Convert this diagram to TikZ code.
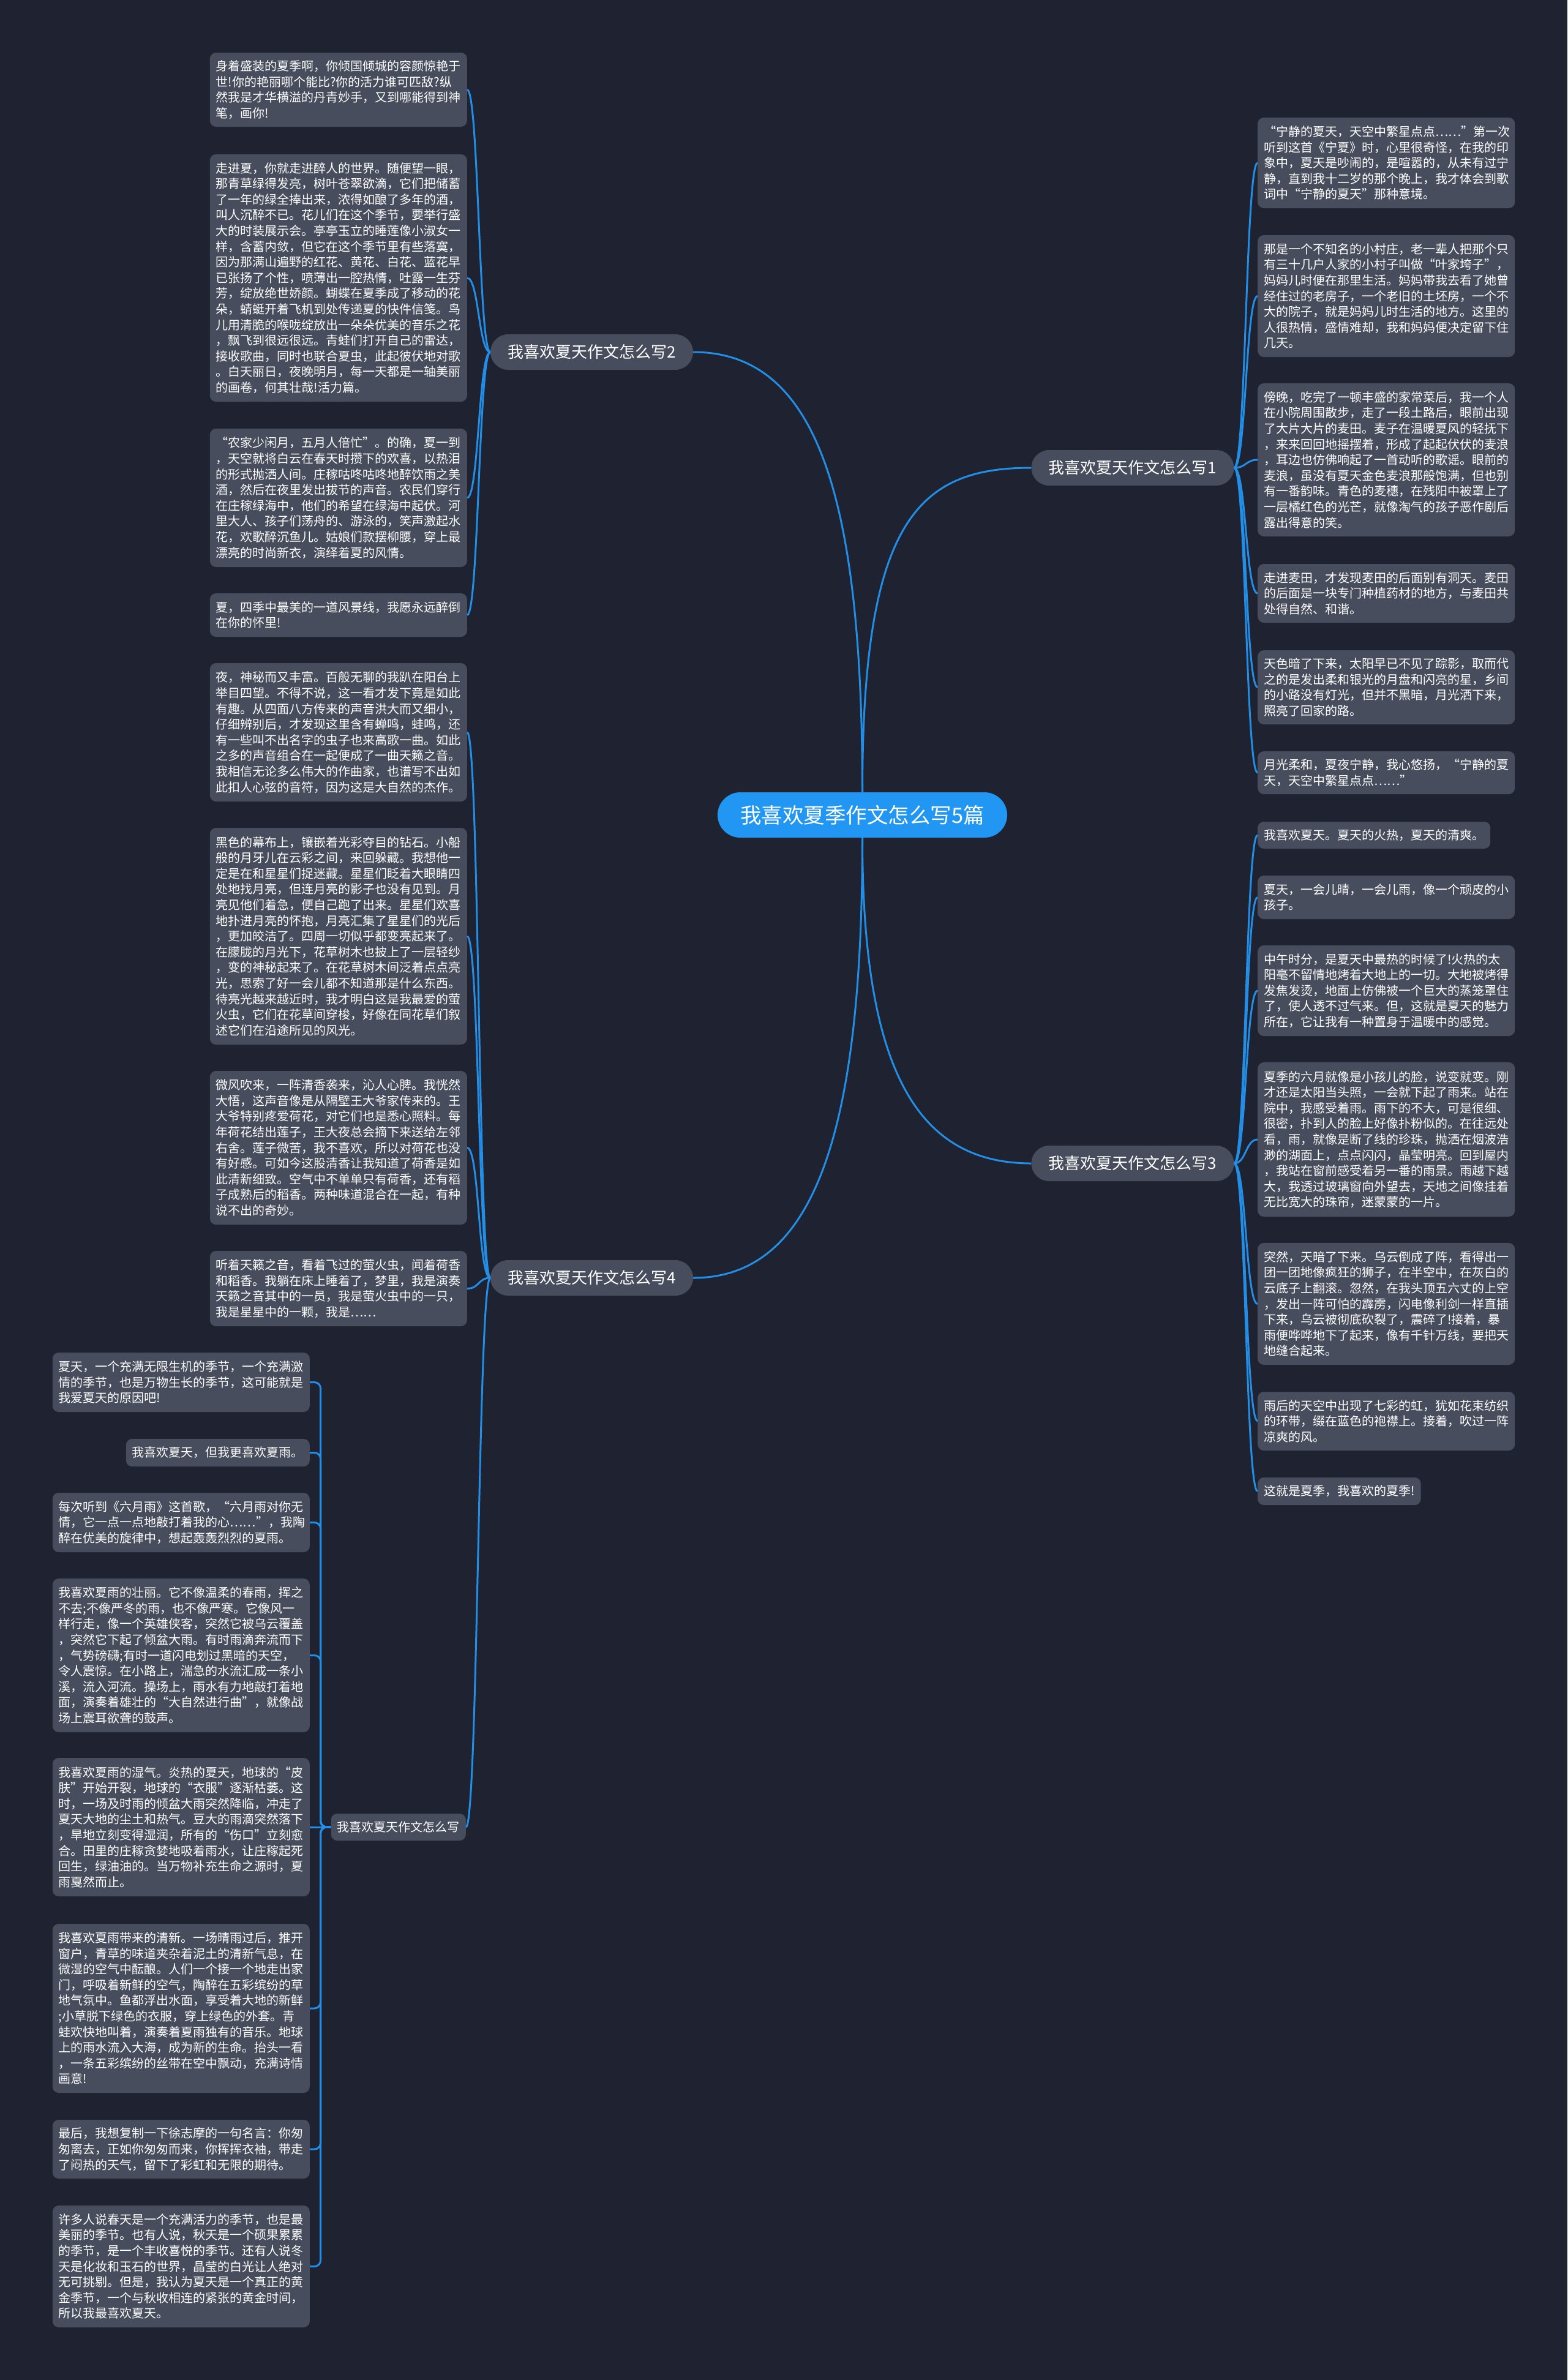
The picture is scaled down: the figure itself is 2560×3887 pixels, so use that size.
\documentclass[tikz,border=0pt]{standalone}
\usepackage{fontspec}
\newfontfamily\cjk{Noto Sans CJK SC}
\definecolor{bgc}{RGB}{31,35,49}
\definecolor{leafc}{RGB}{71,77,92}
\definecolor{linec}{RGB}{35,142,230}
\definecolor{rootc}{RGB}{33,150,243}
\begin{document}
\begin{tikzpicture}[x=1pt,y=-1pt,
  leafbase/.style={fill=leafc, rounded corners=10pt, text=white, font=\cjk\fontsize{20}{25.6}\selectfont, align=left, inner xsep=10pt, inner ysep=0pt},
  leaf/.style={leafbase, text width=400pt},
  branch/.style={fill=leafc, rounded corners=29pt, text=white, font=\cjk\fontsize{26}{30}\selectfont, minimum width=331pt, minimum height=58pt, inner sep=0pt},
  root/.style={fill=rootc, rounded corners=37pt, text=white, font=\cjk\fontsize{34.5}{40}\selectfont, minimum width=473pt, minimum height=74pt, inner sep=0pt},
  link/.style={draw=linec, line width=3pt}]
\fill[bgc] (0,0) rectangle (2560,3887);

% root and branches
\node[root] (C) at (1408.5,1331) {我喜欢夏季作文怎么写5篇};
\node[branch] (B2) at (966.5,575) {我喜欢夏天作文怎么写2};
\node[branch] (B1) at (1850,764) {我喜欢夏天作文怎么写1};
\node[branch] (B3) at (1850,1900) {我喜欢夏天作文怎么写3};
\node[branch] (B4) at (966.5,2087) {我喜欢夏天作文怎么写4};

% branch 2 leaves
\node[leaf, anchor=east, minimum height=121pt] (L2a) at (763,146.5) {身着盛装的夏季啊，你倾国倾城的容颜惊艳于\\世!你的艳丽哪个能比?你的活力谁可匹敌?纵\\然我是才华横溢的丹青妙手，又到哪能得到神\\笔，画你!};
\node[leaf, anchor=east, minimum height=404pt] (L2b) at (763,454) {走进夏，你就走进醉人的世界。随便望一眼，\\那青草绿得发亮，树叶苍翠欲滴，它们把储蓄\\了一年的绿全捧出来，浓得如酿了多年的酒，\\叫人沉醉不已。花儿们在这个季节，要举行盛\\大的时装展示会。亭亭玉立的睡莲像小淑女一\\样，含蓄内敛，但它在这个季节里有些落寞，\\因为那满山遍野的红花、黄花、白花、蓝花早\\已张扬了个性，喷薄出一腔热情，吐露一生芬\\芳，绽放绝世娇颜。蝴蝶在夏季成了移动的花\\朵，蜻蜓开着飞机到处传递夏的快件信笺。鸟\\儿用清脆的喉咙绽放出一朵朵优美的音乐之花\\，飘飞到很远很远。青蛙们打开自己的雷达，\\接收歌曲，同时也联合夏虫，此起彼伏地对歌\\。白天丽日，夜晚明月，每一天都是一轴美丽\\的画卷，何其壮哉!活力篇。};
\node[leaf, anchor=east, minimum height=226pt] (L2c) at (763,813) {“农家少闲月，五月人倍忙”。的确，夏一到\\，天空就将白云在春天时攒下的欢喜，以热泪\\的形式抛洒人间。庄稼咕咚咕咚地醉饮雨之美\\酒，然后在夜里发出拔节的声音。农民们穿行\\在庄稼绿海中，他们的希望在绿海中起伏。河\\里大人、孩子们荡舟的、游泳的，笑声激起水\\花，欢歌醉沉鱼儿。姑娘们款摆柳腰，穿上最\\漂亮的时尚新衣，演绎着夏的风情。};
\node[leaf, anchor=east, minimum height=71pt] (L2d) at (763,1004.5) {夏，四季中最美的一道风景线，我愿永远醉倒\\在你的怀里!};

% branch 4 leaves
\node[leaf, anchor=east, minimum height=226pt] (L4a) at (763,1196) {夜，神秘而又丰富。百般无聊的我趴在阳台上\\举目四望。不得不说，这一看才发下竟是如此\\有趣。从四面八方传来的声音洪大而又细小，\\仔细辨别后，才发现这里含有蝉鸣，蛙鸣，还\\有一些叫不出名字的虫子也来高歌一曲。如此\\之多的声音组合在一起便成了一曲天籁之音。\\我相信无论多么伟大的作曲家，也谱写不出如\\此扣人心弦的音符，因为这是大自然的杰作。};
\node[leaf, anchor=east, minimum height=354pt] (L4b) at (763,1529) {黑色的幕布上，镶嵌着光彩夺目的钻石。小船\\般的月牙儿在云彩之间，来回躲藏。我想他一\\定是在和星星们捉迷藏。星星们眨着大眼睛四\\处地找月亮，但连月亮的影子也没有见到。月\\亮见他们着急，便自己跑了出来。星星们欢喜\\地扑进月亮的怀抱，月亮汇集了星星们的光后\\，更加皎洁了。四周一切似乎都变亮起来了。\\在朦胧的月光下，花草树木也披上了一层轻纱\\，变的神秘起来了。在花草树木间泛着点点亮\\光，思索了好一会儿都不知道那是什么东西。\\待亮光越来越近时，我才明白这是我最爱的萤\\火虫，它们在花草间穿梭，好像在同花草们叙\\述它们在沿途所见的风光。};
\node[leaf, anchor=east, minimum height=251pt] (L4c) at (763,1874.5) {微风吹来，一阵清香袭来，沁人心脾。我恍然\\大悟，这声音像是从隔壁王大爷家传来的。王\\大爷特别疼爱荷花，对它们也是悉心照料。每\\年荷花结出莲子，王大夜总会摘下来送给左邻\\右舍。莲子微苦，我不喜欢，所以对荷花也没\\有好感。可如今这股清香让我知道了荷香是如\\此清新细致。空气中不单单只有荷香，还有稻\\子成熟后的稻香。两种味道混合在一起，有种\\说不出的奇妙。};
\node[leaf, anchor=east, minimum height=123pt] (L4d) at (763,2104.5) {听着天籁之音，看着飞过的萤火虫，闻着荷香\\和稻香。我躺在床上睡着了，梦里，我是演奏\\天籁之音其中的一员，我是萤火虫中的一只，\\我是星星中的一颗，我是……};
\node[leafbase, anchor=east, minimum height=44pt] (L4e) at (761,2984) {我喜欢夏天作文怎么写};

% sub-branch leaves
\node[leaf, anchor=east, minimum height=97pt] (L5a) at (506,2257.5) {夏天，一个充满无限生机的季节，一个充满激\\情的季节，也是万物生长的季节，这可能就是\\我爱夏天的原因吧!};
\node[leafbase, anchor=east, minimum height=45pt] (L5b) at (506,2372.5) {我喜欢夏天，但我更喜欢夏雨。};
\node[leaf, anchor=east, minimum height=97pt] (L5c) at (506,2486.5) {每次听到《六月雨》这首歌，“六月雨对你无\\情，它一点一点地敲打着我的心……”，我陶\\醉在优美的旋律中，想起轰轰烈烈的夏雨。};
\node[leaf, anchor=east, minimum height=251pt] (L5d) at (506,2703.5) {我喜欢夏雨的壮丽。它不像温柔的春雨，挥之\\不去;不像严冬的雨，也不像严寒。它像风一\\样行走，像一个英雄侠客，突然它被乌云覆盖\\，突然它下起了倾盆大雨。有时雨滴奔流而下\\，气势磅礴;有时一道闪电划过黑暗的天空，\\令人震惊。在小路上，湍急的水流汇成一条小\\溪，流入河流。操场上，雨水有力地敲打着地\\面，演奏着雄壮的“大自然进行曲”，就像战\\场上震耳欲聋的鼓声。};
\node[leaf, anchor=east, minimum height=226pt] (L5e) at (506,2984) {我喜欢夏雨的湿气。炎热的夏天，地球的“皮\\肤”开始开裂，地球的“衣服”逐渐枯萎。这\\时，一场及时雨的倾盆大雨突然降临，冲走了\\夏天大地的尘土和热气。豆大的雨滴突然落下\\，旱地立刻变得湿润，所有的“伤口”立刻愈\\合。田里的庄稼贪婪地吸着雨水，让庄稼起死\\回生，绿油油的。当万物补充生命之源时，夏\\雨戛然而止。};
\node[leaf, anchor=east, minimum height=276pt] (L5f) at (506,3280) {我喜欢夏雨带来的清新。一场晴雨过后，推开\\窗户，青草的味道夹杂着泥土的清新气息，在\\微湿的空气中酝酿。人们一个接一个地走出家\\门，呼吸着新鲜的空气，陶醉在五彩缤纷的草\\地气氛中。鱼都浮出水面，享受着大地的新鲜\\;小草脱下绿色的衣服，穿上绿色的外套。青\\蛙欢快地叫着，演奏着夏雨独有的音乐。地球\\上的雨水流入大海，成为新的生命。抬头一看\\，一条五彩缤纷的丝带在空中飘动，充满诗情\\画意!};
\node[leaf, anchor=east, minimum height=96pt] (L5g) at (506,3510) {最后，我想复制一下徐志摩的一句名言：你匆\\匆离去，正如你匆匆而来，你挥挥衣袖，带走\\了闷热的天气，留下了彩虹和无限的期待。};
\node[leaf, anchor=east, minimum height=199pt] (L5h) at (506,3701.5) {许多人说春天是一个充满活力的季节，也是最\\美丽的季节。也有人说，秋天是一个硕果累累\\的季节，是一个丰收喜悦的季节。还有人说冬\\天是化妆和玉石的世界，晶莹的白光让人绝对\\无可挑剔。但是，我认为夏天是一个真正的黄\\金季节，一个与秋收相连的紧张的黄金时间，\\所以我最喜欢夏天。};

% branch 1 leaves
\node[leaf, anchor=west, minimum height=148pt] (R1a) at (2054,266) {“宁静的夏天，天空中繁星点点……”第一次\\听到这首《宁夏》时，心里很奇怪，在我的印\\象中，夏天是吵闹的，是喧嚣的，从未有过宁\\静，直到我十二岁的那个晚上，我才体会到歌\\词中“宁静的夏天”那种意境。};
\node[leaf, anchor=west, minimum height=199pt] (R1b) at (2054,483.5) {那是一个不知名的小村庄，老一辈人把那个只\\有三十几户人家的小村子叫做“叶家垮子”，\\妈妈儿时便在那里生活。妈妈带我去看了她曾\\经住过的老房子，一个老旧的土坯房，一个不\\大的院子，就是妈妈儿时生活的地方。这里的\\人很热情，盛情难却，我和妈妈便决定留下住\\几天。};
\node[leaf, anchor=west, minimum height=250pt] (R1c) at (2054,751) {傍晚，吃完了一顿丰盛的家常菜后，我一个人\\在小院周围散步，走了一段土路后，眼前出现\\了大片大片的麦田。麦子在温暖夏风的轻抚下\\，来来回回地摇摆着，形成了起起伏伏的麦浪\\，耳边也仿佛响起了一首动听的歌谣。眼前的\\麦浪，虽没有夏天金色麦浪那般饱满，但也别\\有一番韵味。青色的麦穗，在残阳中被罩上了\\一层橘红色的光芒，就像淘气的孩子恶作剧后\\露出得意的笑。};
\node[leaf, anchor=west, minimum height=96pt] (R1d) at (2054,969) {走进麦田，才发现麦田的后面别有洞天。麦田\\的后面是一块专门种植药材的地方，与麦田共\\处得自然、和谐。};
\node[leaf, anchor=west, minimum height=121pt] (R1e) at (2054,1122.5) {天色暗了下来，太阳早已不见了踪影，取而代\\之的是发出柔和银光的月盘和闪亮的星，乡间\\的小路没有灯光，但并不黑暗，月光洒下来，\\照亮了回家的路。};
\node[leaf, anchor=west, minimum height=70pt] (R1f) at (2054,1262) {月光柔和，夏夜宁静，我心悠扬，“宁静的夏\\天，天空中繁星点点……”};

% branch 3 leaves
\node[leafbase, anchor=west, minimum height=44pt] (R3a) at (2054,1364) {我喜欢夏天。夏天的火热，夏天的清爽。};
\node[leaf, anchor=west, minimum height=71pt] (R3b) at (2054,1465.5) {夏天，一会儿晴，一会儿雨，像一个顽皮的小\\孩子。};
\node[leaf, anchor=west, minimum height=148pt] (R3c) at (2054,1618) {中午时分，是夏天中最热的时候了!火热的太\\阳毫不留情地烤着大地上的一切。大地被烤得\\发焦发烫，地面上仿佛被一个巨大的蒸笼罩住\\了，使人透不过气来。但，这就是夏天的魅力\\所在，它让我有一种置身于温暖中的感觉。};
\node[leaf, anchor=west, minimum height=252pt] (R3d) at (2054,1861) {夏季的六月就像是小孩儿的脸，说变就变。刚\\才还是太阳当头照，一会就下起了雨来。站在\\院中，我感受着雨。雨下的不大，可是很细、\\很密，扑到人的脸上好像扑粉似的。在往远处\\看，雨，就像是断了线的珍珠，抛洒在烟波浩\\渺的湖面上，点点闪闪，晶莹明亮。回到屋内\\，我站在窗前感受着另一番的雨景。雨越下越\\大，我透过玻璃窗向外望去，天地之间像挂着\\无比宽大的珠帘，迷蒙蒙的一片。};
\node[leaf, anchor=west, minimum height=199pt] (R3e) at (2054,2129.5) {突然，天暗了下来。乌云倒成了阵，看得出一\\团一团地像疯狂的狮子，在半空中，在灰白的\\云底子上翻滚。忽然，在我头顶五六丈的上空\\，发出一阵可怕的霹雳，闪电像利剑一样直插\\下来，乌云被彻底砍裂了，震碎了!接着，暴\\雨便哗哗地下了起来，像有千针万线，要把天\\地缝合起来。};
\node[leaf, anchor=west, minimum height=96pt] (R3f) at (2054,2321) {雨后的天空中出现了七彩的虹，犹如花束纺织\\的环带，缀在蓝色的袍襟上。接着，吹过一阵\\凉爽的风。};
\node[leafbase, anchor=west, minimum height=45pt] (R3g) at (2054,2435.5) {这就是夏季，我喜欢的夏季!};

% root connectors
\draw[link] (C.north) .. controls +(0,-494) and +(198,0) .. (B2.east);
\draw[link] (C.north) .. controls +(0,-444) and +(-185,0) .. (B1.west);
\draw[link] (C.south) .. controls +(0,382) and +(-185,0) .. (B3.west);
\draw[link] (C.south) .. controls +(0,482) and +(198,0) .. (B4.east);

% branch connectors
\foreach \n in {L2a,L2b,L2c,L2d}
  \draw[link] (B2.west) .. controls +(-19,0) and +(19,0) .. (\n.east);
\foreach \n in {L4a,L4b,L4c,L4d,L4e}
  \draw[link] (B4.west) .. controls +(-20,0) and +(20,0) .. (\n.east);
\foreach \n in {R1a,R1b,R1c,R1d,R1e,R1f}
  \draw[link] (B1.east) .. controls +(19.5,0) and +(-19.5,0) .. (\n.west);
\foreach \n in {R3a,R3b,R3c,R3d,R3e,R3f,R3g}
  \draw[link] (B3.east) .. controls +(19.5,0) and +(-19.5,0) .. (\n.west);

% elbow connectors
\foreach \n in {L5a,L5b,L5c,L5d,L5f,L5g,L5h}
  \draw[link, rounded corners=10pt] (L4e.west) -- ++(-17,0) |- (\n.east);
\draw[link] (L4e.west) -- (L5e.east);
\end{tikzpicture}
\end{document}
